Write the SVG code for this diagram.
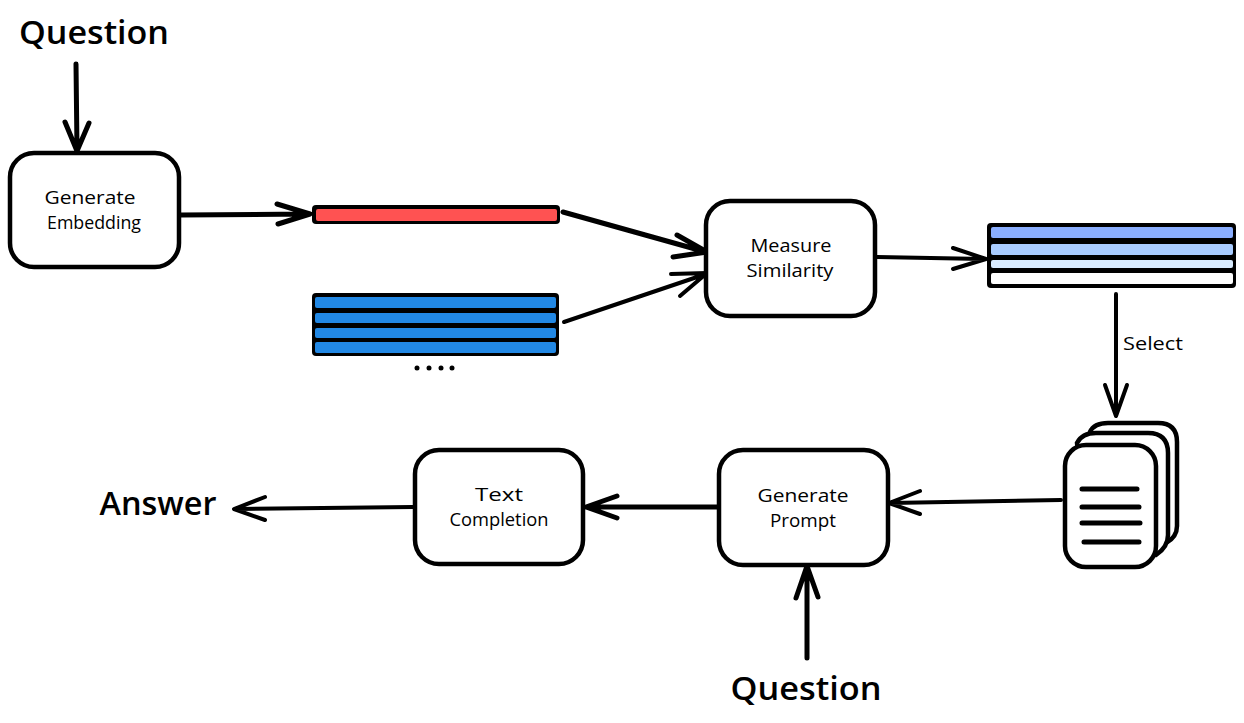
<svg xmlns="http://www.w3.org/2000/svg" width="1244" height="723" viewBox="0 0 1244 723">
<style>
text{font-family:"Open Sans","Noto Sans",sans-serif;fill:#000;text-anchor:middle}
.big{font-size:33px;font-weight:600}
.sm{font-size:18px}
.box{fill:#fff;stroke:#000;stroke-width:4.5}
.c{fill:none;stroke:#000;stroke-width:4;stroke-linecap:round;stroke-linejoin:round}
.h{stroke-width:5}
.ink{fill:#000}
</style>
<rect width="1244" height="723" fill="#fff"/>
<g id="connectors">
<path class="c h" d="M76 64 77 150M65 122 77 151 89 123"/>
<path class="c h" d="M181 215 308 214M277 204 310 214 278 224"/>
<path class="c h" d="M563 212 706 252M677 235 707 252 673 257"/>
<path class="c" d="M564 322 706 274M671 274 707 273 680 296"/>
<path class="c" d="M877 257 984 259M953 248 986 259 953 269"/>
<path class="c" d="M1116 294 1116 414M1105 385 1116 416 1127 385"/>
<path class="c" d="M1061 500 890 503M920 491 889 503 920 514"/>
<path class="c h" d="M717 507 586 507M617 496 586 507 617 518"/>
<path class="c" d="M413 507 235 509M265 497 234 509 265 520"/>
<path class="c h" d="M807 658 807 567M796 598 807 566 818 597"/>
</g>
<g id="question-top"><text class="big" x="94" y="44" textLength="150" lengthAdjust="spacingAndGlyphs">Question</text></g>
<g id="generate-embedding">
<rect class="box" x="10" y="153" width="169" height="114" rx="24"/>
<text class="sm" x="90" y="204" textLength="91" lengthAdjust="spacingAndGlyphs">Generate</text>
<text class="sm" x="94" y="229" textLength="94" lengthAdjust="spacingAndGlyphs">Embedding</text>
</g>
<g id="question-vector">
<rect class="ink" x="312" y="205" width="248" height="19" rx="4"/>
<rect x="316" y="209" width="241" height="12" rx="2" fill="#ff5252"/>
</g>
<g id="document-vectors">
<rect class="ink" x="312" y="293" width="247" height="63" rx="4"/>
<g fill="#2288e4">
<rect x="315" y="297" width="241" height="11" rx="2"/>
<rect x="315" y="313" width="241" height="10" rx="2"/>
<rect x="315" y="328" width="241" height="10" rx="2"/>
<rect x="315" y="342" width="241" height="11" rx="2"/>
</g>
<g class="ink"><circle cx="417" cy="368" r="2.5"/><circle cx="429" cy="368" r="2.5"/><circle cx="441" cy="368" r="2.5"/><circle cx="452" cy="368" r="2.5"/></g>
</g>
<g id="measure-similarity">
<rect class="box" x="706" y="201" width="169" height="115" rx="24"/>
<text class="sm" x="791" y="252" textLength="81" lengthAdjust="spacingAndGlyphs">Measure</text>
<text class="sm" x="790" y="277" textLength="87" lengthAdjust="spacingAndGlyphs">Similarity</text>
</g>
<g id="ranked-vectors">
<rect class="ink" x="987" y="223" width="249" height="65" rx="4"/>
<rect x="991" y="227" width="242" height="11" rx="2" fill="#8aaeff"/>
<rect x="991" y="244" width="242" height="11" rx="2" fill="#a9ccff"/>
<rect x="991" y="260" width="242" height="8" rx="2" fill="#d9ecff"/>
<rect x="991" y="273" width="242" height="11" rx="2" fill="#fff"/>
</g>
<g id="select-label"><text class="sm" x="1153" y="350" textLength="60" lengthAdjust="spacingAndGlyphs">Select</text></g>
<g id="documents">
<path class="box" d="M1090 432Q1094 423 1108 423H1158Q1177 423 1177 442V526Q1177 537 1166 543H1100Z"/>
<path class="box" d="M1077 443Q1082 433 1096 433H1148Q1168 433 1168 453V535Q1168 547 1156 555H1090Z"/>
<rect class="box" x="1065" y="445" width="91" height="122" rx="21"/>
<path class="c h" d="M1082 489H1137M1082 507H1139M1082 523H1140M1084 542H1139"/>
</g>
<g id="generate-prompt">
<rect class="box" x="719" y="450" width="169" height="115" rx="24"/>
<text class="sm" x="803" y="502" textLength="91" lengthAdjust="spacingAndGlyphs">Generate</text>
<text class="sm" x="803" y="527" textLength="66" lengthAdjust="spacingAndGlyphs">Prompt</text>
</g>
<g id="text-completion">
<rect class="box" x="415" y="450" width="168" height="114" rx="24"/>
<text class="sm" x="499" y="501" textLength="48" lengthAdjust="spacingAndGlyphs">Text</text>
<text class="sm" x="499" y="526" textLength="99" lengthAdjust="spacingAndGlyphs">Completion</text>
</g>
<g id="answer"><text class="big" x="158" y="515" textLength="117" lengthAdjust="spacingAndGlyphs">Answer</text></g>
<g id="question-bottom"><text class="big" x="806" y="700" textLength="151" lengthAdjust="spacingAndGlyphs">Question</text></g>
</svg>
